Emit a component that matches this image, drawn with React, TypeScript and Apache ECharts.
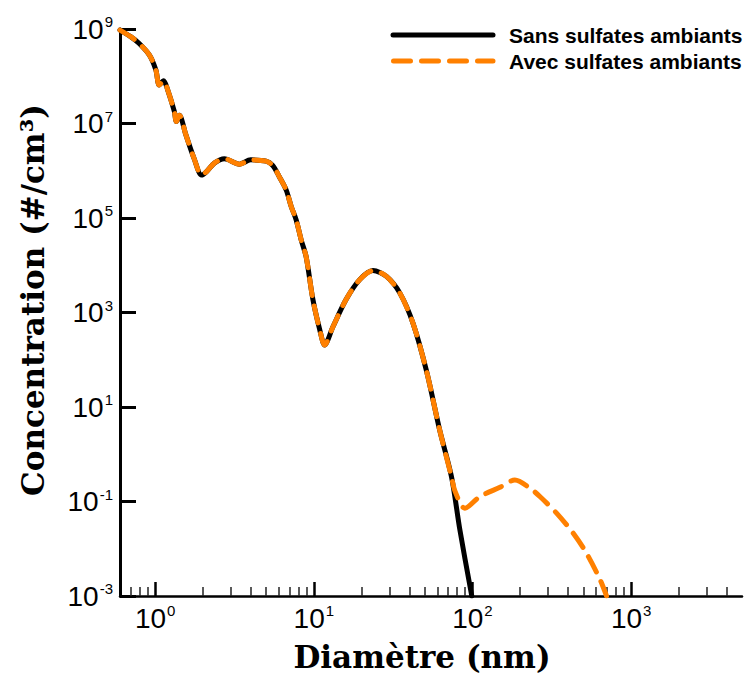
import React, { useEffect, useRef } from "react";
import * as echarts from "echarts";

// Diameters (nm) and concentrations (#/cm3) where both curves coincide
const diamShared = [0.6, 0.7, 0.79, 0.92, 1.01, 1.06, 1.13, 1.2, 1.32, 1.36, 1.42, 1.56, 1.76, 1.96, 2.1, 2.36, 2.73, 3.4, 4.0, 5.0, 5.5, 6.07, 6.7, 7.2, 7.74, 8.33, 8.95, 9.86, 10.9, 11.7, 13.2, 16.0, 19.4, 23.6, 28.7, 34.8, 42.2, 51.3, 62.2, 73.8];
const concShared = [9.5e8, 6.9e8, 5.0e8, 2.8e8, 1.35e8, 6.5e7, 8.0e7, 5.1e7, 1.8e7, 1.1e7, 1.5e7, 5.8e6, 1.8e6, 8.1e5, 9.5e5, 1.45e6, 1.8e6, 1.38e6, 1.7e6, 1.6e6, 1.3e6, 7.4e5, 3.9e5, 1.75e5, 9.1e4, 3.4e4, 1.5e4, 1.9e3, 430, 205, 500, 1.9e3, 4.9e3, 7.7e3, 5.8e3, 2.6e3, 590, 58, 3.2, 0.33];

// "Sans sulfates ambiants" tail
const diamSansTail = [83.3, 99];
const concSansTail = [0.025, 1e-3];

// "Avec sulfates ambiants" tail
const diamAvecTail = [77.4, 89.6, 111, 149, 185, 231, 267, 340, 433, 525, 638, 700];
const concAvecTail = [0.17, 0.072, 0.126, 0.2, 0.285, 0.19, 0.126, 0.056, 0.021, 7.9e-3, 2.2e-3, 1e-3];

const xMajorTicks = [1, 10, 100, 1000];
const xMinorTicks = [0.7, 0.8, 0.9, 2, 3, 4, 5, 6, 7, 8, 9, 20, 30, 40, 50, 60, 70, 80, 90, 200, 300, 400, 500, 600, 700, 800, 900, 2000, 3000, 4000];
const yMajorTicks = [1e-3, 1e-1, 1e1, 1e3, 1e5, 1e7, 1e9];

const seriesNames = ["Sans sulfates ambiants", "Avec sulfates ambiants"];

const zip = (xs: number[], ys: number[]) => xs.map((x, i) => [x, ys[i]]);

const expLabel = (v: number) => {
  const e = Math.round(Math.log10(v));
  return `{b|10}{s|${e}}`;
};

const richLabel = {
  b: { fontSize: 28, fontFamily: "Liberation Sans", color: "#000", verticalAlign: "bottom", lineHeight: 28 },
  s: { fontSize: 15, fontFamily: "Liberation Sans", color: "#000", verticalAlign: "bottom", lineHeight: 15, padding: [0, 0, 14, 1] },
};

export default function App() {
  const ref = useRef<HTMLDivElement>(null);
  useEffect(() => {
    document.body.style.margin = "0";
    if (!ref.current) return;
    const chart = echarts.init(ref.current, null, { renderer: "svg" });
    const sansData = zip(diamShared.concat(diamSansTail), concShared.concat(concSansTail));
    const avecData = zip(diamShared.concat(diamAvecTail), concShared.concat(concAvecTail));
    chart.setOption({
      animation: false,
      backgroundColor: "#fff",
      grid: { left: 120, right: 10, top: 29, bottom: 82, containLabel: false },
      xAxis: [
        {
          type: "log",
          logBase: 10,
          min: 0.6,
          max: 5000,
          name: "Diamètre (nm)",
          nameLocation: "middle",
          nameGap: 45,
          nameTextStyle: { fontFamily: "DejaVu Serif", fontWeight: "bold", fontSize: 31, color: "#000", padding: [0, 18, 0, 0] },
          axisLine: { show: true, lineStyle: { color: "#000", width: 2.5 } },
          axisTick: { show: true, inside: true, length: 14, customValues: xMajorTicks, lineStyle: { color: "#000", width: 2.5 } },
          axisLabel: { customValues: xMajorTicks, margin: 8, fontSize: 28, formatter: expLabel, rich: richLabel },
          splitLine: { show: false },
          minorTick: { show: false },
        },
        {
          type: "log",
          logBase: 10,
          min: 0.6,
          max: 5000,
          position: "bottom",
          axisLine: { show: false },
          axisTick: { show: true, inside: true, length: 9, customValues: xMinorTicks, lineStyle: { color: "#222", width: 1.5 } },
          axisLabel: { show: false },
          splitLine: { show: false },
        },
      ],
      yAxis: {
        type: "log",
        logBase: 10,
        min: 1e-3,
        max: 1e9,
        name: "Concentration (#/cm³)",
        nameLocation: "middle",
        nameGap: 72,
        nameTextStyle: { fontFamily: "DejaVu Serif", fontWeight: "bold", fontSize: 31, color: "#000", padding: [0, 0, 0, 25] },
        axisLine: { show: true, lineStyle: { color: "#000", width: 3 } },
        axisTick: { show: true, inside: true, length: 16, customValues: yMajorTicks, lineStyle: { color: "#000", width: 3 } },
        axisLabel: { customValues: yMajorTicks, margin: 7, fontSize: 28, formatter: expLabel, rich: richLabel },
        splitLine: { show: false },
      },
      series: [
        {
          name: seriesNames[0],
          type: "line",
          data: sansData,
          symbol: "none",
          smooth: 0.3,
          lineStyle: { color: "#000", width: 5, cap: "round", join: "round" },
          z: 2,
        },
        {
          name: seriesNames[1],
          type: "line",
          data: avecData,
          symbol: "none",
          smooth: 0.3,
          lineStyle: { color: "#ff8000", width: 5, type: [17, 11], cap: "round", join: "round" },
          z: 3,
        },
      ],
      graphic: [
        { type: "line", shape: { x1: 393, y1: 35, x2: 493, y2: 35 }, style: { stroke: "#000", lineWidth: 5, lineCap: "round" } },
        { type: "line", shape: { x1: 393.5, y1: 61, x2: 493, y2: 61 }, style: { stroke: "#ff8000", lineWidth: 5, lineCap: "round", lineDash: [17, 11] } },
        { type: "text", x: 509, y: 35, style: { text: seriesNames[0], font: "bold 21px 'Liberation Sans'", fill: "#000", textVerticalAlign: "middle" } },
        { type: "text", x: 509, y: 61, style: { text: seriesNames[1], font: "bold 21px 'Liberation Sans'", fill: "#000", textVerticalAlign: "middle" } },
      ],
    });
    return () => chart.dispose();
  }, []);
  return <div ref={ref} style={{ width: 752, height: 678 }} />;
}
